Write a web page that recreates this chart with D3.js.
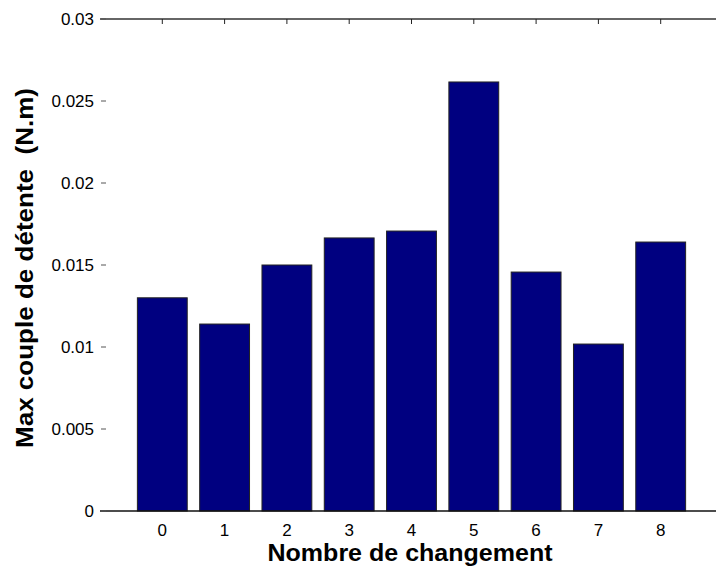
<!DOCTYPE html>
<html>
<head>
<meta charset="utf-8">
<script src="https://cdn.jsdelivr.net/npm/d3@7"></script>
<style>
  body { margin: 0; background: #fff; }
  svg { display: block; font-family: "Liberation Sans", Arial, sans-serif; }
</style>
</head>
<body>
<div id="chart"></div>
<script>
// Data
const categories = [0, 1, 2, 3, 4, 5, 6, 7, 8];
const values = [0.0130, 0.0114, 0.0150, 0.01665, 0.01707, 0.02616, 0.01457, 0.01018, 0.0164];
const yTicks = [0, 0.005, 0.01, 0.015, 0.02, 0.025, 0.03];

const W = 716, H = 570;
const margin = { top: 19, left: 100 };
const plotBottom = 511;

const svg = d3.select("#chart").append("svg")
  .attr("width", W)
  .attr("height", H);

// x runs from -1 to 9 like MATLAB's bar(), right side is cut off by the image
const x = d3.scaleLinear().domain([-1, 9]).range([margin.left, margin.left + 623]);
const y = d3.scaleLinear().domain([0, 0.03]).range([plotBottom, margin.top]);

const barW = (x(1) - x(0)) * 0.8;

// bars
svg.append("g")
  .selectAll("rect")
  .data(values)
  .enter()
  .append("rect")
  .attr("x", (d, i) => x(categories[i]) - barW / 2)
  .attr("y", d => y(d))
  .attr("width", barW)
  .attr("height", d => y(0) - y(d))
  .style("fill", "#000080")
  .style("stroke", "#222")
  .style("stroke-width", 1);

// top and bottom box lines (no left spine in the picture)
svg.append("line")
  .attr("x1", x(-1)).attr("x2", W)
  .attr("y1", y(0.03)).attr("y2", y(0.03))
  .style("stroke", "#333").style("stroke-width", 1.5);
svg.append("line")
  .attr("x1", x(-1)).attr("x2", W)
  .attr("y1", y(0)).attr("y2", y(0))
  .style("stroke", "#111").style("stroke-width", 1.5);

// y ticks
const yAxis = svg.append("g").attr("class", "y-axis");
yAxis.selectAll("line")
  .data(yTicks)
  .enter()
  .append("line")
  .attr("x1", x(-1) + 1).attr("x2", x(-1) + 6)
  .attr("y1", d => y(d)).attr("y2", d => y(d))
  .style("stroke", "#555").style("stroke-width", 1);
yAxis.selectAll("text")
  .data(yTicks)
  .enter()
  .append("text")
  .attr("x", x(-1) - 6)
  .attr("y", d => y(d))
  .attr("dy", "0.35em")
  .attr("text-anchor", "end")
  .style("font-size", "17px")
  .style("fill", "#000")
  .text(d => d === 0 ? "0" : d3.format("")(+d.toFixed(3)));

// top ticks at each category
svg.append("g")
  .selectAll("line")
  .data(categories)
  .enter()
  .append("line")
  .attr("x1", d => x(d)).attr("x2", d => x(d))
  .attr("y1", y(0.03)).attr("y2", y(0.03) + 5)
  .style("stroke", "#222").style("stroke-width", 1);

// x tick labels
svg.append("g")
  .selectAll("text")
  .data(categories)
  .enter()
  .append("text")
  .attr("x", d => x(d))
  .attr("y", plotBottom + 25)
  .attr("text-anchor", "middle")
  .style("font-size", "17px")
  .style("fill", "#000")
  .text(d => d);

// axis titles
svg.append("text")
  .attr("x", 410)
  .attr("y", 561)
  .attr("text-anchor", "middle")
  .attr("textLength", 285)
  .attr("lengthAdjust", "spacingAndGlyphs")
  .style("font-size", "24px")
  .style("font-weight", "bold")
  .text("Nombre de changement");

svg.append("text")
  .attr("transform", "rotate(-90)")
  .attr("x", -268)
  .attr("y", 33)
  .attr("text-anchor", "middle")
  .attr("textLength", 360)
  .attr("lengthAdjust", "spacingAndGlyphs")
  .style("font-size", "24px")
  .style("font-weight", "bold")
  .style("white-space", "pre")
  .text("Max couple de détente  (N.m)");
</script>
</body>
</html>
